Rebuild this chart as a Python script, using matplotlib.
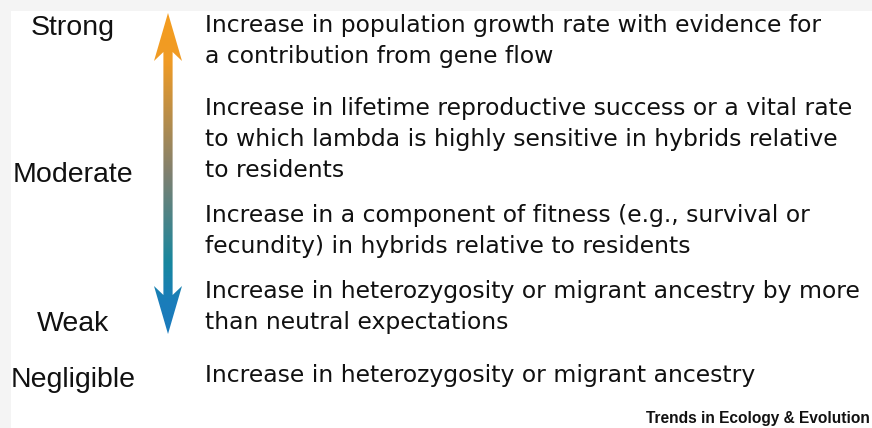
import numpy as np
import matplotlib
matplotlib.use('Agg')
import matplotlib.pyplot as plt
from matplotlib.patches import Polygon, Rectangle
from matplotlib.colors import LinearSegmentedColormap

# evidence strength levels (left column)
levels = ['Strong', 'Moderate', 'Weak', 'Negligible']
level_base = [35, 182, 331, 387]

# descriptions, one list of lines per block
blocks = [
    ['Increase in population growth rate with evidence for',
     'a contribution from gene flow'],
    ['Increase in lifetime reproductive success or a vital rate',
     'to which lambda is highly sensitive in hybrids relative',
     'to residents'],
    ['Increase in a component of fitness (e.g., survival or',
     'fecundity) in hybrids relative to residents'],
    ['Increase in heterozygosity or migrant ancestry by more',
     'than neutral expectations'],
    ['Increase in heterozygosity or migrant ancestry'],
]
block_base = [32, 115, 222, 298, 382]
line_gap = 31

W, H = 872, 428
fig = plt.figure(figsize=(W / 100, H / 100), dpi=100, facecolor='#f4f4f4')
ax = fig.add_axes([0, 0, 1, 1])
ax.set_xlim(0, W)
ax.set_ylim(H, 0)
ax.axis('off')

ax.add_patch(Rectangle((11, 11), W - 11, H - 11, facecolor='white', edgecolor='none'))

# double-headed arrow with orange -> blue gradient
cx = 168
top, bot = 13, 334
hb_top, hb_bot = 60, 287
sw, hw = 4.6, 14
pts = [(cx, top), (cx + hw, hb_top + 1), (cx + sw, hb_top - 8), (cx + sw, hb_bot + 8),
       (cx + hw, hb_bot - 1), (cx, bot), (cx - hw, hb_bot - 1), (cx - sw, hb_bot + 8),
       (cx - sw, hb_top - 8), (cx - hw, hb_top + 1)]
arrow = Polygon(pts, closed=True, facecolor='none', edgecolor='none')
ax.add_patch(arrow)
cmap = LinearSegmentedColormap.from_list('grad', [
    (0.0, '#f49d1f'), (0.15, '#f09b25'), (0.5, '#7f8070'),
    (0.78, '#17879f'), (0.9, '#1a7dba'), (1.0, '#1a7abc')])
grad = np.linspace(0, 1, 256).reshape(-1, 1)
im = ax.imshow(grad, cmap=cmap, aspect='auto', extent=(cx - hw, cx + hw, bot, top),
               interpolation='bilinear', zorder=2)
im.set_clip_path(arrow)
ax.set_xlim(0, W)
ax.set_ylim(H, 0)

for lab, y in zip(levels, level_base):
    ax.text(73, y, lab, ha='center', va='baseline', fontsize=20.5,
            family='Liberation Sans', color='#111111')

for lines, y0 in zip(blocks, block_base):
    for i, ln in enumerate(lines):
        ax.text(205, y0 + i * line_gap, ln, ha='left', va='baseline', fontsize=16.9,
                family='DejaVu Sans', color='#111111')

ax.text(870, 418, 'Trends in Ecology & Evolution', ha='right', va='center',
        fontsize=11.2, fontweight='bold', family='Liberation Sans', color='#111111')

fig.savefig('out.png', dpi=100, facecolor=fig.get_facecolor())
